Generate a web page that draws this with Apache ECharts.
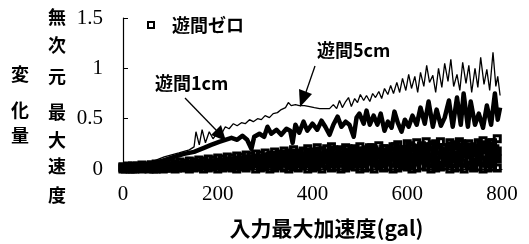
<!DOCTYPE html>
<html><head><meta charset="utf-8">
<script src="https://cdn.jsdelivr.net/npm/echarts@6/dist/echarts.min.js"></script>
<style>html,body{margin:0;padding:0;background:#fff}#c{width:529px;height:244px}</style>
</head><body><div id="c"></div>
<script>
const xTicks = [0, 200, 400, 600, 800];
const yTicks = [0, 0.5, 1, 1.5];

// 遊間5cm (thin line)
const gal5 = [0,23,55,87,118,140,150,154,161,167,174,182,190,199,207,216,224,233,241,250,258,267,275,284,292,300,309,317,326,334,343,349,355,364,372,383,394,404,415,425,436,444,451,457,463,470,476,482,489,495,501,508,514,521,527,533,540,546,552,559,565,571,578,584,590,597,603,609,616,622,628,635,641,647,654,660,666,673,679,686,692,698,705,711,717,724,730,736,743,749,755,762,768,774,781,787,791,796];
const v5 = [0,0.02,0.06,0.12,0.16,0.19,0.22,0.37,0.24,0.39,0.26,0.37,0.30,0.36,0.34,0.42,0.40,0.45,0.43,0.46,0.45,0.49,0.47,0.50,0.49,0.53,0.51,0.55,0.56,0.59,0.61,0.66,0.63,0.64,0.63,0.63,0.62,0.61,0.60,0.60,0.60,0.64,0.60,0.68,0.61,0.67,0.71,0.62,0.70,0.66,0.74,0.68,0.73,0.67,0.75,0.71,0.77,0.70,0.80,0.74,0.83,0.75,0.86,0.76,0.90,0.78,0.94,0.80,0.92,0.76,0.96,0.82,1.03,0.86,0.93,0.76,1.00,0.81,1.05,0.87,1.09,0.82,0.94,0.78,1.06,0.85,1.03,0.76,1.00,0.81,1.11,0.84,0.99,0.78,1.16,0.82,0.92,0.73];

// 遊間1cm (thick line)
const gal1 = [0,23,44,76,108,129,150,171,186,203,216,229,241,252,262,271,277,288,298,305,313,324,334,345,353,358,364,372,381,389,400,410,419,427,436,444,453,461,470,478,487,493,499,508,514,521,529,537,544,552,559,567,573,580,588,595,603,611,620,628,637,645,654,662,671,679,688,696,705,713,719,728,734,743,751,760,768,777,785,791,796];
const v1 = [0,0.01,0.03,0.07,0.12,0.15,0.17,0.21,0.24,0.27,0.29,0.31,0.29,0.33,0.29,0.20,0.32,0.35,0.32,0.42,0.35,0.39,0.34,0.40,0.38,0.26,0.44,0.36,0.47,0.38,0.45,0.39,0.48,0.42,0.34,0.44,0.52,0.42,0.47,0.44,0.32,0.51,0.55,0.45,0.58,0.44,0.53,0.44,0.55,0.38,0.47,0.41,0.57,0.46,0.37,0.49,0.42,0.53,0.44,0.61,0.45,0.67,0.42,0.59,0.43,0.51,0.68,0.42,0.71,0.44,0.75,0.42,0.67,0.44,0.55,0.41,0.63,0.44,0.75,0.49,0.61];

// 遊間ゼロ (square markers), several readings per input level
const galZ = [0,10,20,30,40,50,60,70,80,90,100,110,120,130,140,150,160,170,180,190,200,210,220,230,240,250,260,270,280,290,300,310,320,330,340,350,360,370,380,390,400,410,420,430,440,450,460,470,480,490,500,510,520,530,540,550,560,570,580,590,600,610,620,630,640,650,660,670,680,690,700,710,720,730,740,750,760,770,780,790];
const zeroA = [0.02,0.03,0.02,0.03,0.04,0.03,0.04,0.05,0.04,0.05,0.06,0.05,0.07,0.06,0.08,0.07,0.09,0.08,0.10,0.09,0.11,0.10,0.12,0.11,0.13,0.12,0.14,0.13,0.15,0.14,0.16,0.13,0.17,0.15,0.18,0.16,0.19,0.15,0.18,0.20,0.17,0.21,0.18,0.20,0.22,0.17,0.19,0.21,0.16,0.20,0.22,0.18,0.21,0.19,0.23,0.20,0.17,0.22,0.24,0.19,0.25,0.21,0.26,0.23,0.27,0.22,0.25,0.27,0.21,0.26,0.24,0.27,0.22,0.25,0.20,0.26,0.28,0.23,0.26,0.30];
const zeroB = [0.02,0.01,0.03,0.02,0.03,0.02,0.04,0.03,0.02,0.04,0.03,0.05,0.04,0.03,0.05,0.04,0.06,0.05,0.04,0.06,0.05,0.07,0.06,0.08,0.07,0.09,0.08,0.10,0.09,0.08,0.10,0.08,0.11,0.09,0.12,0.10,0.13,0.11,0.09,0.12,0.11,0.13,0.10,0.14,0.12,0.11,0.14,0.12,0.10,0.13,0.15,0.12,0.14,0.11,0.15,0.13,0.12,0.16,0.14,0.12,0.17,0.15,0.13,0.17,0.14,0.16,0.13,0.18,0.15,0.12,0.17,0.14,0.16,0.18,0.13,0.17,0.15,0.19,0.16,0.18];
const zeroC = [0.00,0.01,0.00,0.01,0.00,0.02,0.01,0.00,0.01,0.02,0.01,0.00,0.02,0.01,0.00,0.01,0.02,0.00,0.01,0.02,0.00,0.01,0.02,0.01,0.00,0.02,0.01,0.03,0.00,0.01,0.02,0.00,0.01,0.03,0.01,0.00,0.02,0.01,0.03,0.00,0.01,0.02,0.00,0.03,0.01,0.02,0.00,0.01,0.03,0.02,0.00,0.01,0.02,0.00,0.03,0.01,0.02,0.00,0.01,0.03,0.02,0.00,0.01,0.03,0.02,0.00,0.01,0.02,0.03,0.00,0.01,0.02,0.00,0.03,0.01,0.02,0.00,0.01,0.02,0.01];
const zeroD = [0.01,0.02,0.01,0.02,0.02,0.01,0.02,0.03,0.02,0.01,0.03,0.02,0.03,0.04,0.02,0.03,0.04,0.03,0.05,0.04,0.05,0.04,0.06,0.05,0.04,0.06,0.05,0.07,0.06,0.05,0.07,0.05,0.06,0.08,0.06,0.05,0.07,0.06,0.08,0.05,0.07,0.06,0.09,0.05,0.07,0.08,0.06,0.09,0.07,0.05,0.08,0.06,0.09,0.07,0.05,0.08,0.10,0.06,0.08,0.07,0.09,0.06,0.08,0.10,0.07,0.05,0.09,0.08,0.06,0.10,0.07,0.09,0.06,0.08,0.10,0.07,0.09,0.06,0.08,0.10];
const galZ2 = [5,15,25,35,45,55,65,75,85,95,105,115,125,135,145,155,165,175,185,195,205,215,225,235,245,255,265,275,285,295,305,315,325,335,345,355,365,375,385,395,405,415,425,435,445,455,465,475,485,495,505,515,525,535,545,555,565,575,585,595,605,615,625,635,645,655,665,675,685,695,705,715,725,735,745,755,765,775,785];
const zeroE = [0.01,0.00,0.02,0.01,0.01,0.02,0.00,0.02,0.01,0.03,0.02,0.03,0.02,0.04,0.03,0.02,0.04,0.05,0.03,0.05,0.03,0.06,0.04,0.03,0.05,0.04,0.06,0.05,0.07,0.04,0.05,0.09,0.04,0.06,0.10,0.04,0.08,0.05,0.11,0.07,0.04,0.10,0.06,0.12,0.05,0.09,0.13,0.04,0.11,0.07,0.05,0.12,0.08,0.14,0.05,0.10,0.07,0.13,0.05,0.11,0.04,0.12,0.09,0.15,0.06,0.11,0.04,0.14,0.08,0.05,0.12,0.06,0.15,0.04,0.11,0.08,0.13,0.05,0.12];
const zeroF = [0.00,0.01,0.00,0.02,0.01,0.00,0.01,0.02,0.00,0.01,0.02,0.01,0.03,0.02,0.04,0.03,0.05,0.04,0.06,0.05,0.07,0.06,0.08,0.07,0.09,0.08,0.10,0.09,0.11,0.10,0.12,0.14,0.11,0.13,0.15,0.12,0.16,0.13,0.17,0.14,0.15,0.18,0.13,0.16,0.19,0.14,0.17,0.20,0.15,0.18,0.16,0.19,0.21,0.17,0.14,0.20,0.18,0.22,0.16,0.19,0.23,0.17,0.20,0.22,0.18,0.24,0.19,0.21,0.17,0.23,0.20,0.25,0.18,0.22,0.19,0.24,0.21,0.26,0.20];

const pairs = (g, v) => g.map((x, i) => [x, v[i]]);
const zeroData = [].concat(pairs(galZ, zeroC), pairs(galZ, zeroD), pairs(galZ2, zeroE), pairs(galZ2, zeroF), pairs(galZ, zeroB), pairs(galZ, zeroA));

const CJK = 'Noto Sans CJK JP';
const SERIF = 'Liberation Serif';
// hollow square drawn as a ring so that overlapping marks stay dark
const RING = 'path://M0 0 L10 0 L10 10 L0 10 Z M3.3 3.3 L3.3 6.7 L6.7 6.7 L6.7 3.3 Z';

const chart = echarts.init(document.getElementById('c'), null, {renderer: 'canvas'});
const vName = ['無','次','元','最','大','速','度'];
const vNameY = [17,45,76,112,140,166,195];
const vName2 = ['変','化','量'];
const vName2Y = [74,110,135];
const txt = (x, y, t, align) => ({type:'text', style:{x:x, y:y, text:t, fill:'#000', fontFamily:CJK, fontSize:18, fontWeight:'bold', textAlign:align || 'center', textVerticalAlign:'middle'}});
const graphics = [];
vName.forEach((ch, i) => graphics.push(txt(57, vNameY[i], ch)));
vName2.forEach((ch, i) => graphics.push(txt(20, vName2Y[i], ch)));
// annotations
graphics.push(txt(155, 83, '遊間1cm', 'left'));
graphics.push(txt(317, 50, '遊間5cm', 'left'));
graphics.push({type:'line', shape:{x1:185, y1:98, x2:217, y2:131}, style:{stroke:'#000', lineWidth:1.3}});
graphics.push({type:'polygon', shape:{points:[[211,135],[221,125],[226,141]]}, style:{fill:'#000'}});
graphics.push({type:'line', shape:{x1:315, y1:66, x2:306, y2:92}, style:{stroke:'#000', lineWidth:1.3}});
graphics.push({type:'polygon', shape:{points:[[312,94],[299,89],[300,107]]}, style:{fill:'#000'}});

chart.setOption({
  animation: false,
  backgroundColor: '#fff',
  grid: {left: 123, right: 27, top: 18, bottom: 71, containLabel: false},
  legend: {
    data: ['遊間ゼロ'], left: 142, top: 11, icon: 'rect', itemWidth: 6, itemHeight: 6,
    itemStyle: {color: '#fff', borderColor: '#000', borderWidth: 2},
    textStyle: {fontFamily: CJK, fontSize: 18, fontWeight: 'bold', color: '#000', padding: [0,0,0,13]}
  },
  xAxis: {
    type: 'value', min: xTicks[0], max: xTicks[xTicks.length-1], interval: 200,
    splitLine: {show: false},
    axisLine: {show: true, lineStyle: {color: '#000', width: 1}},
    axisTick: {show: false},
    axisLabel: {color: '#000', fontFamily: SERIF, fontSize: 21, margin: 15},
    name: '入力最大加速度(gal)', nameLocation: 'middle', nameGap: 49,
    nameTextStyle: {fontFamily: CJK, fontSize: 21, fontWeight: 'bold', color: '#000', padding: [0,0,0,28]}
  },
  yAxis: {
    type: 'value', min: yTicks[0], max: yTicks[yTicks.length-1], interval: 0.5,
    splitLine: {show: false},
    axisLine: {show: true, lineStyle: {color: '#000', width: 1.2}},
    axisTick: {show: true, inside: true, length: 5, lineStyle: {color: '#000'}},
    axisLabel: {color: '#000', fontFamily: SERIF, fontSize: 21, margin: 20}
  },
  graphic: graphics,
  series: [
    {name: '遊間ゼロ', type: 'scatter', data: zeroData, symbol: RING, symbolSize: 9,
     itemStyle: {color: '#000', opacity: 1}, clip: false, z: 2},
    {name: '遊間1cm', type: 'line', data: pairs(gal1, v1), showSymbol: false, symbol: 'none',
     lineStyle: {color: '#000', width: 4.5, join: 'round'}, z: 3},
    {name: '遊間5cm', type: 'line', data: pairs(gal5, v5), showSymbol: false, symbol: 'none',
     lineStyle: {color: '#000', width: 1.3}, z: 4}
  ]
});
</script>
</body></html>
